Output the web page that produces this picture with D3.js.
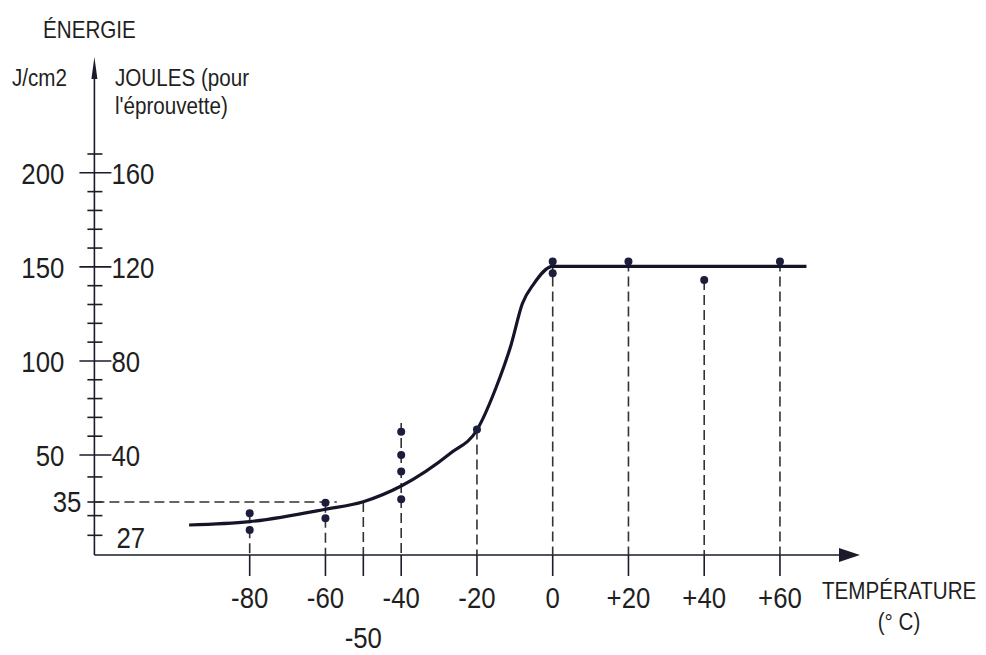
<!DOCTYPE html>
<html><head><meta charset="utf-8">
<script src="https://cdn.jsdelivr.net/npm/d3@7"></script>
<style>
body{margin:0;background:#fff}
text{font-family:"Liberation Sans",Arial,sans-serif;fill:#1f1f1f}
</style>
</head><body>
<svg id="c" width="986" height="655"></svg>
<script>
// ---- data ----
const curveT = [-96, -80, -60, -50, -40, -27, -20, -15, -11, -8, -5, 0, 67];
const curveE = [19.8, 22, 30.2, 35.1, 40.1, 50.9, 63.3, 85.6, 108.5, 130.5, 141, 150.3, 150.3];
const pointT = [-80, -80, -60, -60, -40, -40, -40, -40, -20, 0, 0, 20, 40, 60];
const pointE = [27.5, 16.5, 34.5, 24.2, 62.4, 50, 44.7, 35.9, 63.5, 152.8, 146.6, 152.8, 143, 152.8];
const dropT = [-80, -60, -50, -40, -20, 0, 20, 40, 60];
const dropE = [27.5, 34.5, 35, 67, 63.5, 152.8, 152.8, 143, 152.8];
const xTicks = [-80, -60, -50, -40, -20, 0, 20, 40, 60];
const xTickLabels = ["-80", "-60", "-50", "-40", "-20", "0", "+20", "+40", "+60"];
const yMajor = [50, 100, 150, 200];
const yMajorLabels = ["50", "100", "150", "200"];
const jouleLabels = ["40", "80", "120", "160"];
const yMinor = [13, 26, 35, 43, 60, 70, 80, 90, 110, 120, 130, 140, 160, 170, 180, 190, 210];
const refE = 35, refEndT = -57;
const refLabel = "35", refJouleLabel = "27";

// ---- scales ----
const x = d3.scaleLinear().domain([-121, 81]).range([94.4, 859.5]);
const y = d3.scaleLinear().domain([0, 35, 50, 210]).range([555, 502, 455, 154]);

const svg = d3.select("#c");
const ink = "#1b1b2b";
const X0 = x(-121), Y0 = y(0);
const SX = 0.86;
const tr = (px, py) => `translate(${px},${py}) scale(${SX},1)`;
function txt(px, py, s, size, anchor) {
  svg.append("text").attr("transform", tr(px, py)).attr("font-size", size)
    .attr("text-anchor", anchor || "start").text(s);
}

// axes lines
svg.append("line").attr("x1", X0).attr("x2", X0).attr("y1", Y0).attr("y2", 70)
  .attr("stroke", ink).attr("stroke-width", 1.6);
svg.append("path").attr("d", `M${X0},57 L${X0-3},79 L${X0+3},79 Z`).attr("fill", ink);
svg.append("line").attr("x1", X0).attr("x2", 845).attr("y1", Y0).attr("y2", Y0)
  .attr("stroke", ink).attr("stroke-width", 1.6);
svg.append("path").attr("d", `M860,${Y0} L839,${Y0-7} L839,${Y0+7} Z`).attr("fill", ink);

// y ticks
svg.selectAll(".ymin").data(yMinor).join("line")
  .attr("x1", X0 - 7).attr("x2", X0 + 8)
  .attr("y1", d => y(d)).attr("y2", d => y(d))
  .attr("stroke", ink).attr("stroke-width", 1.6);
svg.selectAll(".ymaj").data(yMajor).join("line")
  .attr("x1", X0 - 15).attr("x2", X0 + 17)
  .attr("y1", d => y(d)).attr("y2", d => y(d))
  .attr("stroke", ink).attr("stroke-width", 1.6);
svg.selectAll(".ylab").data(yMajor).join("text")
  .attr("transform", d => tr(X0 - 30, y(d) + 11))
  .attr("text-anchor", "end").attr("font-size", 30)
  .text((d, i) => yMajorLabels[i]);
svg.selectAll(".jlab").data(yMajor).join("text")
  .attr("transform", d => tr(X0 + 17, y(d) + 11))
  .attr("text-anchor", "start").attr("font-size", 30)
  .text((d, i) => jouleLabels[i]);
txt(X0 - 13, y(refE) + 10, refLabel, 30, "end");
txt(X0 + 22, y(refE) + 46, refJouleLabel, 30, "start");

// x ticks
svg.selectAll(".xt").data(xTicks).join("line")
  .attr("x1", d => x(d)).attr("x2", d => x(d))
  .attr("y1", Y0).attr("y2", Y0 + 21)
  .attr("stroke", ink).attr("stroke-width", 1.6);
svg.selectAll(".xl").data(xTicks).join("text")
  .attr("transform", d => tr(x(d), d === -50 ? Y0 + 93 : Y0 + 53))
  .attr("text-anchor", "middle").attr("font-size", 30)
  .text((d, i) => xTickLabels[i]);

// dashed guides
svg.append("line").attr("x1", X0).attr("x2", x(refEndT))
  .attr("y1", y(refE)).attr("y2", y(refE))
  .attr("stroke", "#333").attr("stroke-width", 1.6).attr("stroke-dasharray", "10,5");
svg.selectAll(".drop").data(dropT).join("line")
  .attr("x1", d => x(d)).attr("x2", d => x(d))
  .attr("y1", (d, i) => y(dropE[i])).attr("y2", Y0)
  .attr("stroke", "#333").attr("stroke-width", 1.6).attr("stroke-dasharray", "10,5");

// curve
const line = d3.line().x(d => x(d[0])).y(d => y(d[1])).curve(d3.curveMonotoneX);
svg.append("path").datum(curveT.map((t, i) => [t, curveE[i]]))
  .attr("d", line).attr("fill", "none").attr("stroke", "#15152a").attr("stroke-width", 3.2);

// points
svg.selectAll(".pt").data(pointT).join("circle")
  .attr("cx", d => x(d)).attr("cy", (d, i) => y(pointE[i])).attr("r", 4)
  .attr("fill", "#1c1c3c");

// labels
txt(43, 38, "ÉNERGIE", 24);
txt(12, 86, "J/cm2", 24);
txt(115, 86, "JOULES (pour", 24);
txt(115, 114, "l'éprouvette)", 24);
txt(822, 599, "TEMPÉRATURE", 24);
txt(899, 630, "(° C)", 24, "middle");
</script>
</body></html>
